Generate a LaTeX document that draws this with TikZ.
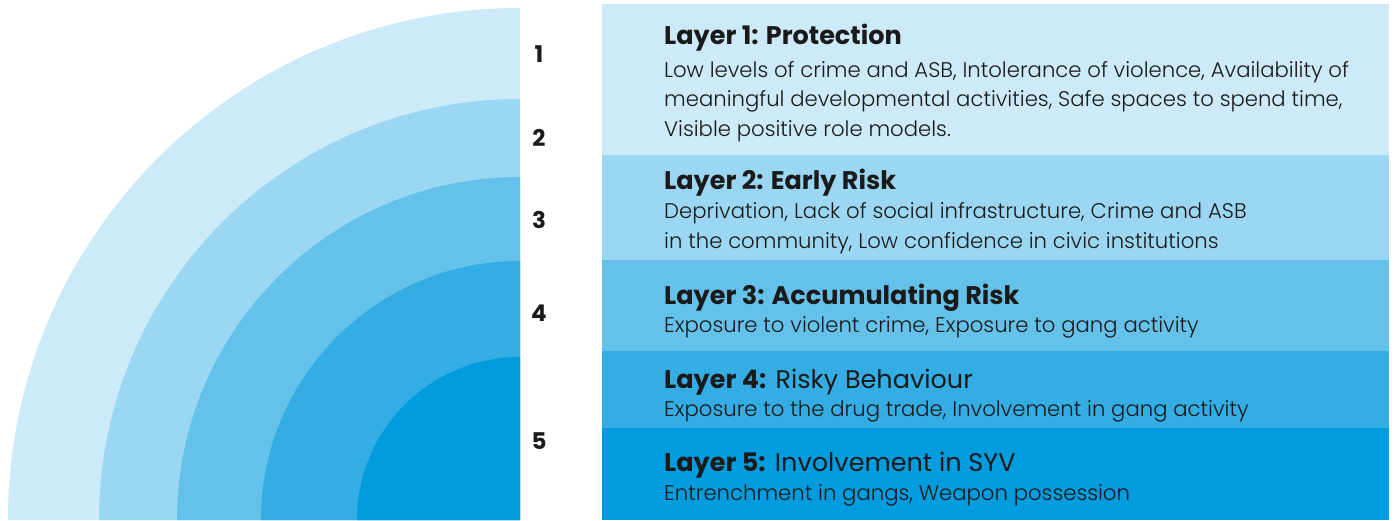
\documentclass[tikz,border=0pt]{standalone}
\usepackage{fontspec}
\setmainfont{Poppins}[UprightFont=* Light, BoldFont=* Bold]
\newfontfamily\regfont{Poppins}
\definecolor{cA}{HTML}{CCEAF7}
\definecolor{cB}{HTML}{9BD7F2}
\definecolor{cC}{HTML}{64C1EA}
\definecolor{cD}{HTML}{33ADE3}
\definecolor{cE}{HTML}{009CDE}
\definecolor{ink}{HTML}{1A1A1A}
\tikzset{
  head/.style={anchor=base west, inner sep=0pt, text=ink, font=\fontsize{25.5}{30}\selectfont},
  body/.style={anchor=base west, inner sep=0pt, text=ink, font=\fontsize{21.2}{30}\selectfont},
  num/.style={anchor=base, inner sep=0pt, text=ink, font=\fontsize{23}{28}\selectfont\bfseries},
}
\begin{document}
\begin{tikzpicture}[x=1pt,y=1pt]
\useasboundingbox (0,0) rectangle (1395,520);
% quarter discs
\coordinate (ctr) at (520,0);
\fill[cA] (ctr) -- (8,0) arc[start angle=180,end angle=90,radius=512] -- cycle;
\fill[cB] (ctr) -- (99,0) arc[start angle=180,end angle=90,radius=421] -- cycle;
\fill[cC] (ctr) -- (177,0) arc[start angle=180,end angle=90,radius=343] -- cycle;
\fill[cD] (ctr) -- (261,0) arc[start angle=180,end angle=90,radius=259] -- cycle;
\fill[cE] (ctr) -- (357,0) arc[start angle=180,end angle=90,radius=163] -- cycle;
% bands
\fill[cA] (602,365) rectangle (1389,516);
\fill[cB] (602,260) rectangle (1389,365);
\fill[cC] (602,169) rectangle (1389,260);
\fill[cD] (602,92) rectangle (1389,169);
\fill[cE] (602,0) rectangle (1389,92);
% numbers
\node[num] (n1) at (539,457) {1};
\node[num] (n2) at (539,373) {2};
\node[num] (n3) at (539,291) {3};
\node[num] (n4) at (539,198) {4};
\node[num] (n5) at (539,71) {5};
% texts
\node[head] (h1) at (664,475) {\bfseries Layer 1: Protection};
\node[body] (b1a) at (664,442) {Low levels of crime and ASB, Intolerance of violence, Availability of};
\node[body] (b1b) at (664,413) {meaningful developmental activities, Safe spaces to spend time,};
\node[body] (b1c) at (664,383) {Visible positive role models.};
\node[head] (h2) at (664,330) {\bfseries Layer 2: Early Risk};
\node[body] (b2a) at (664,301) {Deprivation, Lack of social infrastructure, Crime and ASB};
\node[body] (b2b) at (664,271) {in the community, Low confidence in civic institutions};
\node[head] (h3) at (664,215) {\bfseries Layer 3: Accumulating Risk};
\node[body] (b3a) at (664,187) {Exposure to violent crime, Exposure to gang activity};
\node[head] (h4) at (664,132) {\textbf{Layer 4:} {\regfont Risky Behaviour}};
\node[body] (b4a) at (664,104) {Exposure to the drug trade, Involvement in gang activity};
\node[head] (h5) at (664,49) {\textbf{Layer 5:} {\regfont Involvement in SYV}};
\node[body] (b5a) at (664,20) {Entrenchment in gangs, Weapon possession};
\end{tikzpicture}
\end{document}
